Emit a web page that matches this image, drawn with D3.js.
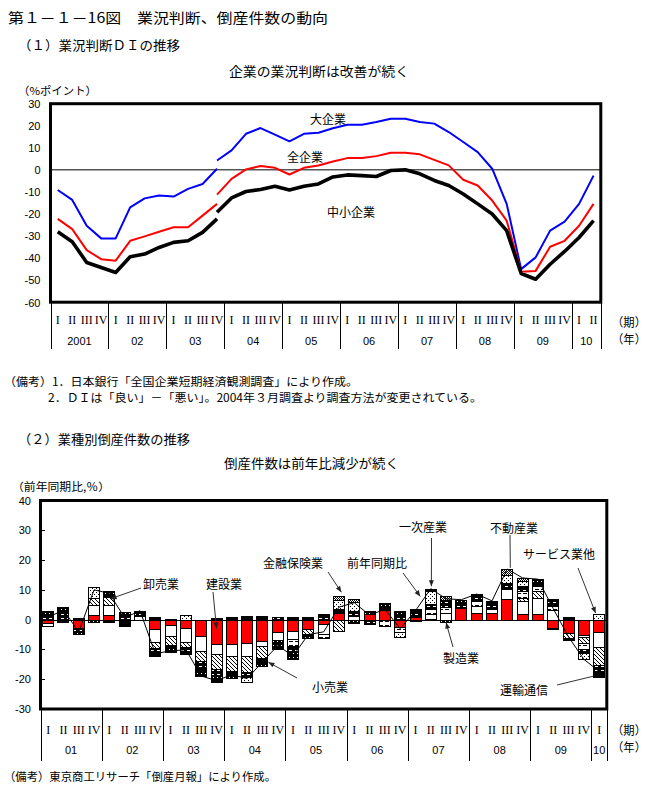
<!DOCTYPE html>
<html><head><meta charset="utf-8">
<script src="https://cdn.jsdelivr.net/npm/d3@7"></script>
<style>
body{margin:0;background:#fff}
svg{display:block}
text{font-family:"Noto Sans CJK JP","Noto Sans",sans-serif;fill:#000}
.num{font-family:"Liberation Sans",Arial,sans-serif}
.rom{font-family:"Liberation Serif",serif}
</style>
</head><body>
<svg id="c" width="659" height="803"></svg>
<script>
// ---------------- DATA ----------------
const yearsTop = ["2001","02","03","04","05","06","07","08","09","10"];
const quartersPerYearTop = [4,4,4,4,4,4,4,4,4,2];
const yearsBottom = ["01","02","03","04","05","06","07","08","09","10"];
const quartersPerYearBottom = [4,4,4,4,4,4,4,4,4,1];
const quarterNames = ["I","II","III","IV"];
const topTicks = [30,20,10,0,-10,-20,-30,-40,-50,-60];
const bottomTicks = [40,30,20,10,0,-10,-20,-30];

// (1) 業況判断DI : old survey 2001Q1-2003Q4, new survey 2003Q4-2010Q2
const largeOld = [-9.1,-13.6,-25.3,-31,-31,-17,-12.9,-11.6,-12.1,-8.6,-6.4,0.5];
const largeNew = [4.2,8.8,16.3,18.9,15.9,12.9,16.3,16.8,18.8,20.4,20.4,21.6,23.1,23.1,21.6,20.9,17.1,12.6,8.0,0.5,-15.4,-44.9,-39.6,-27.5,-23.4,-15.4,-2.6];
const allOld = [-22.2,-26.8,-36.3,-40.4,-41.1,-32.1,-30.1,-28,-26,-26,-20.7,-15.4];
const allNew = [-11.2,-4.1,0.2,1.7,0.9,-2.1,0.9,2,3.8,5.3,5.3,6.2,7.7,7.7,7,4.5,2,-4.5,-7.1,-13.9,-23,-46.1,-45.7,-34.8,-32.1,-25.3,-15.4];
const smallOld = [-28,-32.5,-41.9,-44.2,-46.4,-39.3,-38.1,-35.1,-32.8,-32.1,-28.3,-22.2];
const smallNew = [-19.2,-12.7,-9.8,-8.9,-7.4,-9.1,-7.4,-6.4,-3.2,-2.3,-2.6,-3,-0.3,0,-1.8,-4.8,-7.1,-10.9,-15.4,-20,-27.5,-46.9,-49.5,-42.7,-36.9,-30.6,-23];

// (2) 業種別倒産件数 寄与度 2001Q1-2010Q1
const construction = [-1.0,0.3,-2.8,1.7,1.7,-0.5,0,-3.3,-1.7,-2.8,-5.6,-8.3,-8.1,-7.9,-7.1,-4.1,-3.8,-3.0,-1.6,2.3,0,1.8,3.4,-2.5,1.0,0.3,0,4.0,2.1,2.3,7.0,1.8,1.8,-2.7,-4.6,-5.0,-4.3];
const services = [-1.2,0,0,3.3,3.3,0,1.1,-4.1,-3.9,-4.8,-5.0,-3.3,-4.0,-4.2,-1.9,-2.7,-2.8,0,-3.3,0,1.1,0,0,0,0,1.5,2.2,0,2.4,1.2,3.3,4.4,5.6,3.4,0,-0.8,-5.0];
const wholesale = [0,0,0,2.2,2.6,0,0,-2.0,-2.8,-1.6,-3.3,-5.0,-5.0,-5.6,-4.0,0,0,-1.9,0,-3.8,0,0,0,0,0,0,0,0,0,0,0,1.1,2.2,0,-1.4,-2.0,-5.9];
const manufacturing = [0,0,0,0,0,0,0,0,0,0,0,0,0,0,0,0,-2.2,0,-1.2,0,0,0,-2.1,-1.8,-0.6,1.7,2.0,0,1.7,0,0,2.2,1.7,1.1,0,-2.0,0];
const retail = [1.7,2.0,-1.1,0,1.0,1.5,1.0,-1.7,0,-2.3,-3.0,-2.2,-1.2,-1.7,-1.3,1.0,-2.0,0,1.0,0,1.8,-1.3,1.3,1.5,1.6,1.7,2.5,1.5,1.3,1.5,1.9,1.7,1.5,1.7,0,-1.3,-2.8];
const transport = [1.3,1.8,-0.8,-0.9,1.1,1.1,0.9,-1.1,-2.4,0,-2.0,-1.7,-1.2,0,-1.1,-2.9,-2.4,-1.1,1.0,1.3,-1.2,1.0,0.9,1.3,1.0,0,-0.8,1.2,1.1,1.3,0,0,0.8,0.8,-0.7,0,-1.3];
const realEstate = [0,0,0,3.7,0,0,0,0,0,1.4,0,-0.6,0,-1.7,0,0,0,0,0,3.1,3.0,0,0,-1.5,0,4.4,0,0,0,0,2.9,1.7,0,0,0,-2.2,1.9];
const finance = [0,0,0,0,0,0,0,0,0,0,0,0,0,0,0,0,0,0,0,1.3,1.0,0,0,0,0,0,1.1,0,0,0,1.9,1.1,0,0,0,0,0];
const primary = [0,-0.9,0.6,0,-0.9,-1.5,0,0.8,0.3,0,0,0.6,1.0,1.3,1.2,0,1.0,1.0,0,0,0,0,0,0,0,0.8,0,0,0,0,0,0,0,-0.6,0.9,0,0];
const yoyTotal = [0.8,3.2,-4.1,10.0,8.8,0.6,3.0,-11.4,-10.5,-10.1,-18.9,-20.5,-18.5,-19.8,-14.2,-8.7,-12.2,-5.0,-4.1,4.2,5.7,1.5,3.5,-3.0,3.0,10.4,7.0,6.7,8.6,6.3,17.0,14.0,13.6,3.7,-5.8,-13.3,-17.4];

// ---------------- DRAW ----------------
const svg = d3.select("#c");
const defs = svg.append("defs");
function pat(id,w,h,bg,marks){
  const p = defs.append("pattern").attr("id",id).attr("patternUnits","userSpaceOnUse").attr("width",w).attr("height",h);
  p.append("rect").attr("width",w).attr("height",h).attr("fill",bg);
  marks(p);
}
pat("pH",4,4,"#fff",p=>p.append("path").attr("d","M-1,-1L5,5M3,-1L5,1M-1,3L1,5").attr("stroke","#000").attr("stroke-width",1));
pat("pL",6,4,"#fff",p=>p.append("rect").attr("x",1).attr("y",1).attr("width",4).attr("height",1).attr("fill","#000"));
pat("pD",6,4,"#000",p=>p.append("rect").attr("x",1).attr("y",2).attr("width",3).attr("height",1).attr("fill","#fff"));
pat("pS",4,4,"#fff",p=>{p.append("rect").attr("x",0).attr("y",0).attr("width",1).attr("height",1).attr("fill","#000");p.append("rect").attr("x",2).attr("y",2).attr("width",1).attr("height",1).attr("fill","#000");});
pat("pC",2,2,"#fff",p=>{p.append("rect").attr("width",1).attr("height",1).attr("fill","#000");p.append("rect").attr("x",1).attr("y",1).attr("width",1).attr("height",1).attr("fill","#000");});
pat("pB",4,4,"#000",p=>p.append("rect").attr("x",1).attr("y",1).attr("width",1).attr("height",1).attr("fill","#fff"));

function txt(x,y,s,o={}){
  const t = svg.append("text").attr("x",x).attr("y",y).attr("dominant-baseline","central")
    .style("font-size",(o.size||12)+"px").text(s);
  if(o.cls) t.attr("class",o.cls);
  if(o.anchor) t.attr("text-anchor",o.anchor);
  if(o.len) t.attr("textLength",o.len).attr("lengthAdjust","spacingAndGlyphs");
  return t;
}

// headings
txt(8,17,"第１－１－16図　業況判断、倒産件数の動向",{size:14,len:320});
txt(18,44,"（１）業況判断ＤＩの推移",{size:13,len:162});
txt(229,70,"企業の業況判断は改善が続く",{size:13,len:180});
txt(18,90,"（%ポイント）",{size:11,len:79});

// ---- top chart ----
const nTop = d3.sum(quartersPerYearTop);
const xt = d3.scaleBand().domain(d3.range(nTop)).range([50.5,600.8]).padding(0);
const yt = d3.scaleLinear().domain([-60,30]).range([302.5,103.5]);
const cx = i => xt(i)+xt.bandwidth()/2;

topTicks.forEach(v=>txt(40.5,yt(v),String(v),{size:11,cls:"num",anchor:"end"}));
svg.append("line").attr("x1",50.5).attr("x2",600.8).attr("y1",yt(0)).attr("y2",yt(0)).attr("stroke","#000").attr("stroke-width",1);

const lineTop = d3.line().x(d=>cx(d.i)).y(d=>yt(d.v));
function series(old, nw, color, w){
  const a = old.map((v,i)=>({i,v}));
  const start = old.length-1;
  const b = nw.map((v,k)=>({i:start+k,v}));
  [a,b].forEach(pts=>svg.append("path").attr("d",lineTop(pts)).attr("fill","none")
    .attr("stroke",color).attr("stroke-width",w).attr("stroke-linejoin","round"));
}
series(largeOld,largeNew,"#0000ff",2);
series(allOld,allNew,"#ff0000",2);
series(smallOld,smallNew,"#000",3.6);
svg.append("rect").attr("x",50.5).attr("y",103.7).attr("width",550.3).attr("height",198.5)
  .attr("fill","none").attr("stroke","#000").attr("stroke-width",3);

txt(310,118,"大企業",{size:12});
txt(287,156,"全企業",{size:12});
txt(327,211,"中小企業",{size:12});

// top axis categories
let qi=0;
yearsTop.forEach((y,k)=>{
  const n = quartersPerYearTop[k];
  const x0 = xt(qi), x1 = qi+n<nTop ? xt(qi+n) : 600.8;
  for(let j=0;j<n;j++) txt(cx(qi+j),320,quarterNames[j],{size:12,cls:"rom",anchor:"middle"});
  txt((x0+x1)/2,341,y,{size:11,cls:"num",anchor:"middle"});
  svg.append("line").attr("x1",Math.round(x0)+0.5).attr("x2",Math.round(x0)+0.5).attr("y1",302).attr("y2",349).attr("stroke","#000");
  qi+=n;
});
svg.append("line").attr("x1",601.5).attr("x2",601.5).attr("y1",302).attr("y2",349).attr("stroke","#000");
txt(612,321,"（期）",{size:12,len:34});
txt(612,338,"（年）",{size:12,len:34});

txt(4,381,"（備考）1．日本銀行「全国企業短期経済観測調査」により作成。",{size:11.5,len:354});
txt(48,397,"2．ＤＩは「良い」－「悪い」。2004年３月調査より調査方法が変更されている。",{size:11.5,len:434});

// ---- bottom chart ----
txt(18,438,"（２）業種別倒産件数の推移",{size:13,len:172});
txt(224,462,"倒産件数は前年比減少が続く",{size:13,len:175});
txt(12,486,"（前年同期比,％）",{size:11,len:98});

const nB = d3.sum(quartersPerYearBottom);
const xb = d3.scaleBand().domain(d3.range(nB)).range([40.5,606.8]).paddingInner(0.22).paddingOuter(0.11);
const yb = d3.scaleLinear().domain([-30,40]).range([709,500.5]);
const bw = xb.bandwidth();

bottomTicks.forEach(v=>{
  txt(31,yb(v),String(v),{size:11,cls:"num",anchor:"end"});
  svg.append("line").attr("x1",40.5).attr("x2",45).attr("y1",Math.round(yb(v))+0.5).attr("y2",Math.round(yb(v))+0.5).attr("stroke","#000");
});

const keys = ["construction","services","wholesale","manufacturing","retail","transport","realEstate","finance","primary"];
const fills = {construction:"#ff0000",services:"#fff",wholesale:"url(#pH)",manufacturing:"url(#pL)",retail:"url(#pD)",
  transport:"url(#pB)",realEstate:"url(#pS)",finance:"url(#pC)",primary:"#000"};
const src = {construction,services,wholesale,manufacturing,retail,transport,realEstate,finance,primary};
const rows = d3.range(nB).map(i=>{const r={i}; keys.forEach(k=>r[k]=src[k][i]); return r;});
const stacked = d3.stack().keys(keys).offset(d3.stackOffsetDiverging)(rows);

const gBars = svg.append("g").attr("shape-rendering","crispEdges");
stacked.forEach(s=>{
  gBars.selectAll(null).data(s.filter(d=>d[0]!==d[1])).join("rect")
    .attr("x",d=>Math.round(xb(d.data.i))+0.5)
    .attr("width",Math.round(bw)-1)
    .attr("y",d=>Math.round(yb(Math.max(d[0],d[1])))+0.5)
    .attr("height",d=>Math.max(1,Math.round(yb(Math.min(d[0],d[1])))-Math.round(yb(Math.max(d[0],d[1])))))
    .attr("fill",fills[s.key]).attr("stroke","#000").attr("stroke-width",1);
});
svg.append("line").attr("x1",40.5).attr("x2",606.8).attr("y1",Math.round(yb(0))+0.5).attr("y2",Math.round(yb(0))+0.5).attr("stroke","#000");
svg.append("path").attr("d",d3.line().x((d,i)=>xb(i)+bw/2).y(d=>yb(d))(yoyTotal))
  .attr("fill","none").attr("stroke","#000").attr("stroke-width",1);
svg.append("rect").attr("x",40.5).attr("y",500.5).attr("width",566.3).attr("height",208.5)
  .attr("fill","none").attr("stroke","#000").attr("stroke-width",3);

// annotations: label, text x,y, line start, target (quarter index, value, x offset within band 0..1)
const notes = [
  ["卸売業",143,583,[141,588],[4,7.0,0.6],true],
  ["建設業",206,583,[213,592],[11,-3.0,0.5],true],
  ["金融保険業",263,562,[328,572],[19,9.2,0.7],true],
  ["前年同期比",347,562,[403,573],[24,7.8,0.9],true],
  ["一次産業",399,526,[431.5,538],[25,11.2,0.55],true],
  ["不動産業",490,527,[510,535],[30,17.4,0.75],false],
  ["サービス業他",523,553,[578,568],[36,2.2,0.2],true],
  ["製造業",443,657,[453,647],[26,-1.0,0.5],true],
  ["小売業",312,686,[297,678],[14,-14.3,1.0],true],
  ["運輸通信",500,689,[557,685],[36,-19.0,0.0],false]
];
notes.forEach(([s,tx,ty,p0,tg,head])=>{
  txt(tx,ty,s,{size:12});
  const x1 = xb(tg[0])+bw*tg[2], y1 = yb(tg[1]);
  svg.append("line").attr("x1",p0[0]).attr("y1",p0[1]).attr("x2",x1).attr("y2",y1).attr("stroke","#333").attr("stroke-width",1);
  if(head){
    const a = Math.atan2(y1-p0[1],x1-p0[0]), L=6, W=2.5;
    const bx = x1-L*Math.cos(a), by = y1-L*Math.sin(a);
    svg.append("path").attr("d",`M${x1},${y1}L${bx+W*Math.sin(a)},${by-W*Math.cos(a)}L${bx-W*Math.sin(a)},${by+W*Math.cos(a)}Z`).attr("fill","#222");
  }
});

// bottom axis categories
qi=0;
yearsBottom.forEach((y,k)=>{
  const n = quartersPerYearBottom[k];
  const step = xb.step();
  const x0 = 40.5 + qi*step, x1 = 40.5+(qi+n)*step;
  for(let j=0;j<n;j++) txt(xb(qi+j)+bw/2,730,quarterNames[j],{size:12,cls:"rom",anchor:"middle"});
  txt((x0+x1)/2,750,y,{size:11,cls:"num",anchor:"middle"});
  svg.append("line").attr("x1",Math.round(x0)+0.5).attr("x2",Math.round(x0)+0.5).attr("y1",709).attr("y2",761).attr("stroke","#000");
  qi+=n;
});
svg.append("line").attr("x1",607.5).attr("x2",607.5).attr("y1",709).attr("y2",761).attr("stroke","#000");
txt(612,729,"（期）",{size:12,len:34});
txt(612,746,"（年）",{size:12,len:34});
txt(4,776,"（備考）東京商工リサーチ「倒産月報」により作成。",{size:11.5,len:272});
</script>
</body></html>
